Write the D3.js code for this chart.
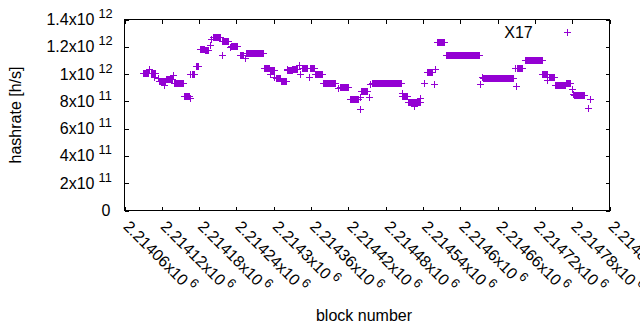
<!DOCTYPE html>
<html><head><meta charset="utf-8">
<script src="https://cdn.jsdelivr.net/npm/d3@7"></script>
<style>
body{margin:0;background:#fff}
text{font-family:"Liberation Sans",Arial,sans-serif;fill:#000}
</style>
</head><body>
<svg id="chart" width="640" height="330"></svg>
<script>
// ---- data: runs of consecutive blocks sharing the same hashrate estimate ----
const runFirstBlock = [
 2214090,2214099,2214102,2214107,2214114,2214116,2214123,2214127,2214138,2214140,
 2214156,2214165,2214166,2214168,2214175,2214181,2214189,2214197,2214199,2214203,
 2214216,2214217,2214229,2214231,2214245,2214253,2214255,2214285,2214294,2214294,
 2214300,2214303,2214312,2214321,2214322,2214330,2214340,2214342,2214346,2214356,
 2214358,2214366,2214379,2214403,2214406,2214422,2214438,2214439,2214441,2214453,
 2214455,2214458,2214472,2214506,2214507,2214516,2214526,2214536,2214541,2214546,
 2214557,2214559,2214562,2214577,2214631,2214635,2214636,2214688,2214690,2214691,
 2214704,2214732,2214733,2214740,2214742,2214752,2214770,2214779,2214781,2214783,
 2214805,2214808];
const runLastBlock = [
 2214098,2214099,2214109,2214107,2214114,2214125,2214123,2214136,2214138,2214154,
 2214164,2214165,2214166,2214172,2214179,2214188,2214195,2214197,2214199,2214214,
 2214216,2214227,2214229,2214241,2214250,2214253,2214283,2214293,2214301,2214294,
 2214300,2214310,2214320,2214321,2214330,2214337,2214340,2214342,2214354,2214356,
 2214365,2214377,2214399,2214403,2214420,2214436,2214438,2214439,2214450,2214453,
 2214455,2214471,2214505,2214506,2214514,2214535,2214526,2214536,2214541,2214555,
 2214557,2214559,2214574,2214630,2214631,2214635,2214685,2214688,2214690,2214700,
 2214731,2214732,2214739,2214740,2214751,2214768,2214776,2214779,2214781,2214799,
 2214805,2214808];
const runHashrate = [
 1.011e12,1.040e12,1.008e12,0.979e12,0.972e12,0.946e12,0.919e12,0.962e12,0.992e12,0.938e12,
 0.838e12,0.826e12,0.997e12,0.999e12,1.057e12,1.186e12,1.174e12,1.210e12,1.254e12,1.271e12,
 1.143e12,1.245e12,1.198e12,1.207e12,1.141e12,1.118e12,1.157e12,1.048e12,1.033e12,0.997e12,
 0.979e12,0.972e12,0.948e12,1.040e12,1.033e12,1.040e12,1.070e12,0.997e12,1.046e12,0.979e12,
 1.046e12,1.004e12,0.933e12,0.895e12,0.906e12,0.8145e12,0.742e12,0.835e12,0.875e12,0.833e12,
 0.930e12,0.933e12,0.931e12,0.858e12,0.840e12,0.798e12,0.766e12,0.826e12,0.931e12,1.017e12,
 0.924e12,1.040e12,1.236e12,1.143e12,0.924e12,0.979e12,0.968e12,1.045e12,0.911e12,1.045e12,
 1.106e12,0.997e12,0.997e12,0.955e12,0.979e12,0.919e12,0.933e12,0.887e12,0.851e12,0.848e12,
 0.749e12,0.817e12];
const seriesName = "X17";

const xTickValues = [2214060,2214120,2214180,2214240,2214300,2214360,2214420,2214480,2214540,2214600,2214660,2214720,2214780,2214840];
const xTickLabels = ["2.21406x10^6","2.21412x10^6","2.21418x10^6","2.21424x10^6","2.2143x10^6","2.21436x10^6","2.21442x10^6","2.21448x10^6","2.21454x10^6","2.2146x10^6","2.21466x10^6","2.21472x10^6","2.21478x10^6","2.21484x10^6"];
const yTickValues = [0,2e11,4e11,6e11,8e11,1e12,1.2e12,1.4e12];
const yTickLabels = ["0","2x10^11","4x10^11","6x10^11","8x10^11","1x10^12","1.2x10^12","1.4x10^12"];
const xTitle = "block number";
const yTitle = "hashrate [h/s]";

// ---- layout ----
const L = 124.5, R = 609.5, T = 19.5, B = 210.5;
const color = "#9400D3";
const svg = d3.select("#chart");
const x = d3.scaleLinear().domain([2214060, 2214840]).range([L, R]);
const y = d3.scaleLinear().domain([0, 1.4e12]).range([B, T]);

// ticks (inward on all four sides)
const tk = 4;
svg.append("g").attr("transform",`translate(0,${B})`)
  .call(d3.axisBottom(x).tickValues(xTickValues).tickSize(-tk).tickSizeOuter(0).tickFormat(""));
svg.append("g").attr("transform",`translate(0,${T})`)
  .call(d3.axisTop(x).tickValues(xTickValues).tickSize(-tk).tickSizeOuter(0).tickFormat(""));
svg.append("g").attr("transform",`translate(${L},0)`)
  .call(d3.axisLeft(y).tickValues(yTickValues).tickSize(-tk).tickSizeOuter(0).tickFormat(""));
svg.append("g").attr("transform",`translate(${R},0)`)
  .call(d3.axisRight(y).tickValues(yTickValues).tickSize(-tk).tickSizeOuter(0).tickFormat(""));
svg.selectAll(".domain").remove();
svg.selectAll(".tick line").attr("stroke","#000").attr("shape-rendering","crispEdges");
svg.append("rect").attr("x",L).attr("y",T).attr("width",R-L).attr("height",B-T)
  .attr("fill","none").attr("stroke","#000").attr("stroke-width",1);

// y tick labels
yTickValues.forEach((v,i)=>{
  const [m,e] = yTickLabels[i].split("^");
  const ty = y(v);
  if (e === undefined) {
    svg.append("text").attr("x",110.5).attr("y",ty+5.5).attr("text-anchor","end")
      .attr("font-size",16).text(m);
  } else {
    svg.append("text").attr("x",94.5).attr("y",ty+5.5).attr("text-anchor","end")
      .attr("font-size",16).text(m);
    svg.append("text").attr("x",98.5).attr("y",ty-1.5).attr("text-anchor","start")
      .attr("font-size",12.8).text(e);
  }
});

// x tick labels (rotated -45 in gnuplot sense)
xTickValues.forEach((v,i)=>{
  const [m,e] = xTickLabels[i].split("^");
  const g = svg.append("g").attr("transform",`translate(${x(v)-2},${B+17}) rotate(45)`);
  const t = g.append("text").attr("font-size",16).attr("x",0).attr("y",0);
  t.append("tspan").text(m);
  if (e !== undefined) t.append("tspan").attr("dx",3).attr("dy",-7).attr("font-size",12.8).text(e);
});

// axis titles
svg.append("text").attr("x",364).attr("y",321).attr("text-anchor","middle").attr("font-size",16).text(xTitle);
svg.append("text").attr("transform","translate(21,115) rotate(-90)").attr("text-anchor","middle")
  .attr("font-size",16).text(yTitle);

// points
const pts = [];
runFirstBlock.forEach((s,i)=>{ for (let b=s; b<=runLastBlock[i]; b++) pts.push([b, runHashrate[i]]); });
const hs = 3.5;
function plus(p, cx, cy){ p.moveTo(cx-hs,cy); p.lineTo(cx+hs,cy); p.moveTo(cx,cy-hs); p.lineTo(cx,cy+hs); }
const path = d3.path();
pts.forEach(([b,v])=>{ plus(path, Math.round(x(b))+0.5, Math.round(y(v))+0.5); });
svg.append("path").attr("d",path.toString()).attr("fill","none").attr("stroke",color).attr("stroke-width",1);

// legend
svg.append("text").attr("x",532.7).attr("y",37.7).attr("text-anchor","end").attr("font-size",16).text(seriesName);
const lp = d3.path(); plus(lp, 567.5, 32.5);
svg.append("path").attr("d",lp.toString()).attr("fill","none").attr("stroke",color).attr("stroke-width",1);
</script>
</body></html>
